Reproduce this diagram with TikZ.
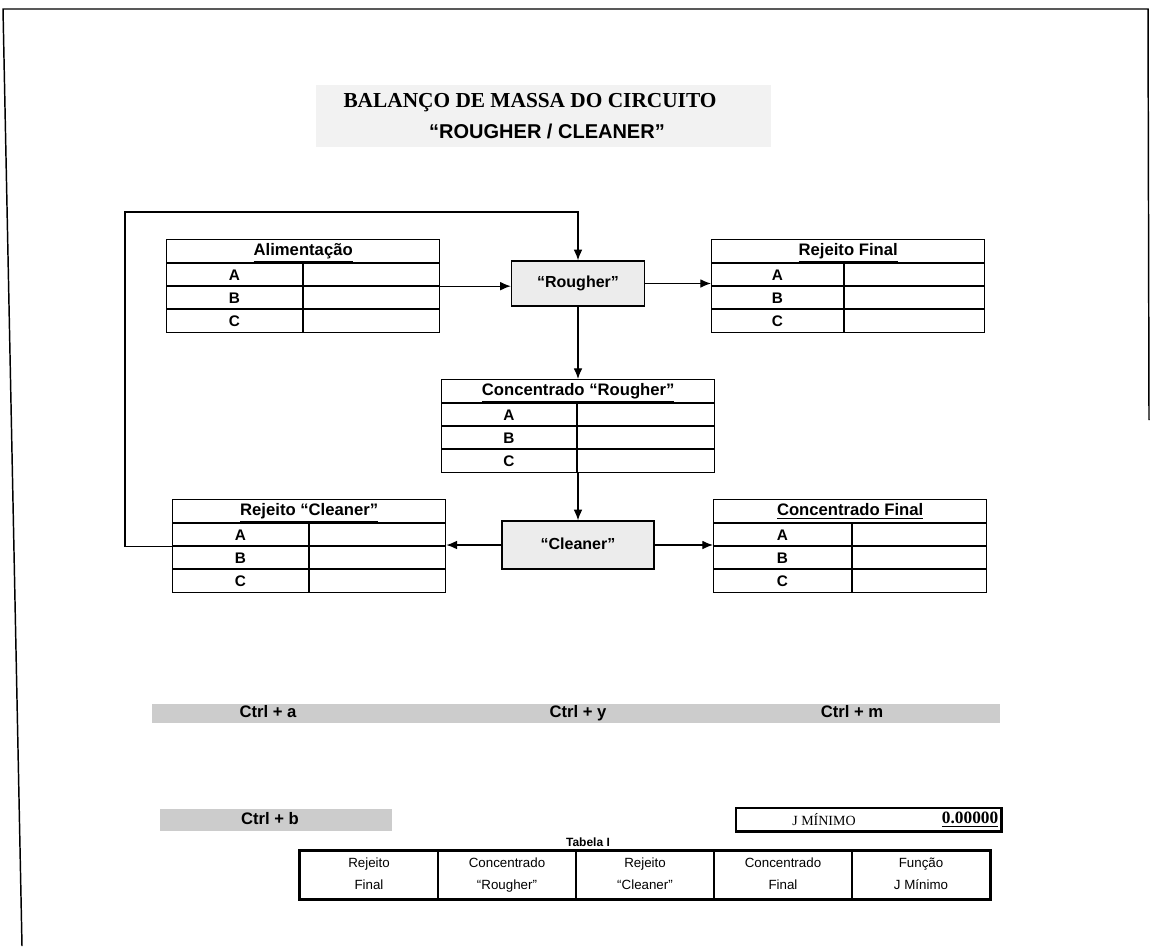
\documentclass[tikz,border=0pt]{standalone}
\usepackage{fontspec}
\setmainfont{Liberation Sans}
\newfontfamily\titleserif{Liberation Serif}
\usetikzlibrary{arrows.meta,calc}

% One stream table: #1 name, #2 left x, #3 top y, #4 header, #5 divider offset
\newcommand{\mbtable}[5]{%
  \node[tabframe, anchor=north west] (#1) at (#2,#3) {};
  \path (#1.north west) ++(0,24) coordinate (#1-h) ++(0,23) coordinate (#1-a) ++(0,23) coordinate (#1-b);
  \draw[rule] (#1-h) -- (#1-h -| #1.east);
  \draw[rule] (#1-a) -- (#1-a -| #1.east);
  \draw[rule] (#1-b) -- (#1-b -| #1.east);
  \draw[rule] ($(#1-h)+(#5,0)$) -- ($(#1.south west)+(#5,0)$);
  \node[hdrtext] (#1-t) at ($(#1.north)+(0,12.5)$) {\underline{#4}};
  \node[celltext] (#1-A) at ($(#1-h)+(#5/2,12)$) {A};
  \node[celltext] (#1-B) at ($(#1-a)+(#5/2,12)$) {B};
  \node[celltext] (#1-C) at ($(#1-b)+(#5/2,12)$) {C};
}

\begin{document}
\begin{tikzpicture}[x=0.75pt,y=-0.75pt,
  pageline/.style={line width=1.1pt},
  tabframe/.style={draw, line width=1pt, minimum width=273*0.75pt, minimum height=93*0.75pt, inner sep=0pt},
  rule/.style={line width=0.9pt},
  hdrtext/.style={font=\fontsize{12.5}{14}\selectfont\bfseries, inner sep=0pt, text height=9pt, text depth=2.5pt},
  celltext/.style={font=\fontsize{11.5}{13}\selectfont\bfseries, inner sep=0pt, text height=8.3pt, text depth=0pt},
  unit/.style={draw, line width=1pt, fill=gray!15, inner sep=0pt, font=\fontsize{12}{14}\selectfont\bfseries,
    text height=8.6pt, text depth=2.5pt},
  flow/.style={line width=0.9pt, -{Latex[length=8pt,width=6.5pt]}},
  band/.style={fill=gray!40, draw=none, inner sep=0pt},
  keytext/.style={font=\fontsize{12.5}{14}\selectfont\bfseries, inner sep=0pt, text height=9pt, text depth=2.5pt},
  rescell/.style={draw, line width=0.8pt, minimum width=138*0.75pt, minimum height=48*0.75pt, inner sep=0pt},
  restext/.style={font=\fontsize{10}{12}\selectfont, inner sep=0pt, text height=7.2pt, text depth=2pt},
]
\useasboundingbox (0,0) rectangle (1152,946);

% page frame
\draw[pageline] (22,946) -- (3,9) -- (1148,9) -- (1149,420);

% title
\node[fill=gray!10, minimum width=455*0.75pt, minimum height=62*0.75pt, inner sep=0pt] (ttlband) at (543,116) {};
\node[font=\titleserif\fontsize{16}{19}\selectfont\bfseries, inner sep=0pt] (ttl1) at (530,103) {BALANÇO DE MASSA DO CIRCUITO};
\node[font=\fontsize{15}{18}\selectfont\bfseries, inner sep=0pt] (ttl2) at (547,131) {“ROUGHER / CLEANER”};

% stream tables
\mbtable{ali}{166}{239}{Alimentação}{137}
\mbtable{rejf}{711}{239}{Rejeito Final}{133}
\mbtable{concr}{441}{379}{Concentrado “Rougher”}{136}
\mbtable{rejc}{172}{499}{Rejeito “Cleaner”}{137}
\mbtable{concf}{713}{499}{Concentrado Final}{139}

% flotation units
\node[unit, minimum width=133*0.75pt, minimum height=45*0.75pt] (rougher) at (578,283.5) {“Rougher”};
\node[unit, minimum width=152*0.75pt, minimum height=48*0.75pt] (cleaner) at (578,545) {“Cleaner”};

% streams
\coordinate (loop) at (125,212);
\draw[flow] (ali.east) -- (ali.east -| rougher.west);
\draw[flow] (rougher.east) -- (rougher.east -| rejf.west);
\draw[flow] (rougher.south) -- (rougher.south |- concr.north);
\draw[flow] (concr.south -| cleaner.north) -- (cleaner.north);
\draw[flow] (cleaner.west) -- (cleaner.west -| rejc.east);
\draw[flow] (cleaner.east) -- (cleaner.east -| concf.west);
\draw[flow] (rejc.west) -| (loop) -| (rougher.north);

% macro keys
\node[band, minimum width=848*0.75pt, minimum height=19*0.75pt] (keyband) at (576,713.5) {};
\node[keytext] (ka) at (268,713.5) {Ctrl + a};
\node[keytext] (ky) at (578,713.5) {Ctrl + y};
\node[keytext] (km) at (852,713.5) {Ctrl + m};
\node[band, minimum width=232*0.75pt, minimum height=22*0.75pt] (bband) at (276,820) {};
\node[keytext] (kb) at (270,820) {Ctrl + b};

% objective function
\node[draw, line width=0.8pt, minimum width=265*0.75pt, minimum height=23*0.75pt, inner sep=0pt] (jmin) at (868.5,819.5) {};
\draw[line width=2pt] (jmin.north east) -- (jmin.south east) -- (jmin.south west);
\node[font=\titleserif\fontsize{10.5}{12}\selectfont, inner sep=0pt] (jlab) at (824,820) {J MÍNIMO};
\node[font=\titleserif\fontsize{13}{15}\selectfont\bfseries, anchor=east, inner sep=0pt] (jval) at ($(jmin.east)+(-3,0)$) {\underline{0.00000}};

% result table
\node[font=\fontsize{9}{11}\selectfont\bfseries, inner sep=0pt] (tabcap) at (588,842) {Tabela I};
\node[rescell] (t1) at (369,875) {};
\node[rescell] (t2) at (507,875) {};
\node[rescell] (t3) at (645,875) {};
\node[rescell] (t4) at (783,875) {};
\node[rescell] (t5) at (921,875) {};
\draw[line width=1.6pt] (t1.north west) rectangle (t5.south east);
\node[restext] (t1a) at ($(t1)+(0,-11)$) {Rejeito};
\node[restext] (t1b) at ($(t1)+(0,11)$) {Final};
\node[restext] (t2a) at ($(t2)+(0,-11)$) {Concentrado};
\node[restext] (t2b) at ($(t2)+(0,11)$) {“Rougher”};
\node[restext] (t3a) at ($(t3)+(0,-11)$) {Rejeito};
\node[restext] (t3b) at ($(t3)+(0,11)$) {“Cleaner”};
\node[restext] (t4a) at ($(t4)+(0,-11)$) {Concentrado};
\node[restext] (t4b) at ($(t4)+(0,11)$) {Final};
\node[restext] (t5a) at ($(t5)+(0,-11)$) {Função};
\node[restext] (t5b) at ($(t5)+(0,11)$) {J Mínimo};
\end{tikzpicture}
\end{document}
